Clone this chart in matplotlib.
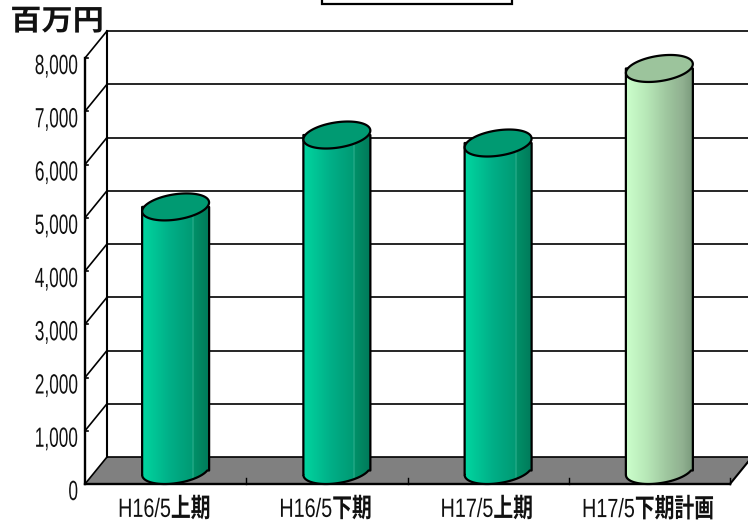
import numpy as np
import matplotlib
matplotlib.use("Agg")
import matplotlib.pyplot as plt
from matplotlib import font_manager as fm
from matplotlib.colors import LinearSegmentedColormap
from matplotlib.patches import Polygon
from matplotlib.patheffects import AbstractPathEffect
from matplotlib.transforms import Affine2D

categories = ["H16/5上期", "H16/5下期", "H17/5上期", "H17/5下期計画"]
values = [4950, 6300, 6150, 7550]
is_plan = [False, False, False, True]
ticks = [0, 1000, 2000, 3000, 4000, 5000, 6000, 7000, 8000]

W, H = 748, 524
LEFT, BASE, CAT_W, PX_PER = 85, 484, 161.25, 426 / 8000
DX, DY = 22 / CAT_W, 27 / PX_PER      # depth vector, data units
HALF_W = 31.6 / CAT_W                 # cylinder half-width (front axis)
HALF_OUT = 33.5 / CAT_W               # silhouette half-width

plt.rcParams["font.family"] = ["Liberation Sans", "Noto Sans CJK JP", "DejaVu Sans"]

# Regular Latin glyphs alongside bold CJK glyphs in one text
reg = fm.findfont(fm.FontProperties(family="Liberation Sans"))
fm.fontManager.ttflist.append(fm.FontEntry(fname=reg, name="LatinRegular", style="normal",
                                           variant="normal", weight=700, stretch="normal", size="scalable"))

fig = plt.figure(figsize=(W / 100, H / 100), dpi=100)
ax = fig.add_axes([0, 0, 1, 1])
ax.set_xlim(-LEFT / CAT_W - 0.5, (W - LEFT) / CAT_W - 0.5)
ax.set_ylim((BASE - H) / PX_PER, BASE / PX_PER)
ax.axis("off")

class Narrow(AbstractPathEffect):
    """Scale text horizontally about an anchor pixel."""
    def __init__(self, sx, anchor):
        super().__init__()
        self.sx, self.anchor = sx, anchor
    def draw_path(self, renderer, gc, tpath, affine, rgbFace=None):
        tr = affine + Affine2D().translate(-self.anchor, 0).scale(self.sx, 1).translate(self.anchor, 0)
        renderer.draw_path(gc, tpath, tr, rgbFace)

x0, x1 = -0.5, len(categories) - 0.5
ymax = ticks[-1]
ax.add_patch(Polygon([(x0, 0), (x1, 0), (x1 + DX, DY), (x0 + DX, DY)], fc="#808080", ec="none", zorder=1))
for t in ticks:
    ax.plot([x0 + DX, x1 + DX], [t + DY, t + DY], color="k", lw=1.2, zorder=2)
    ax.plot([x0, x0 + DX], [t, t + DY], color="k", lw=1.2, zorder=2)
    ax.plot([x0, x0 + 3 / CAT_W], [t, t], color="k", lw=1.2, zorder=2)
    ax.annotate(f"{t:,}", (x0, t), xytext=(-5, -6.5), textcoords="offset points", ha="right", va="center",
                fontsize=20, color="#111111",
                path_effects=[Narrow(0.62, 78)], zorder=5)
ax.plot([x0 + DX, x0 + DX], [DY, ymax + DY], color="k", lw=1.5, zorder=2)
ax.plot([x0, x0], [0, ymax], color="k", lw=1.7, zorder=2)
ax.plot([x0, x1], [0, 0], color="k", lw=1.7, zorder=2)
ax.plot([x1, x1 + DX], [0, DY], color="k", lw=1.5, zorder=2)
for b in np.arange(x0 + 1, x1 + 0.5):
    ax.plot([b, b], [0, 6 / PX_PER], color="k", lw=1, zorder=2)

green = LinearSegmentedColormap.from_list("g", [(0, "#00d6a0"), (0.4, "#00b088"), (0.75, "#009a74"),
                                                (0.765, "#30b090"), (0.78, "#009068"), (1, "#007a5a")])
pale = LinearSegmentedColormap.from_list("p", [(0, "#ccffcc"), (0.3, "#b8e8b8"), (0.6, "#a0c8a0"),
                                               (0.85, "#90b090"), (1, "#7a9a7c")])
grad = np.linspace(0, 1, 128).reshape(1, -1)
t = np.linspace(0, 2 * np.pi, 121)
for i, (v, plan) in enumerate(zip(values, is_plan)):
    cx, by = i + DX / 2 - 1 / CAT_W, DY / 2
    ty = v + by
    bottom = np.linspace(np.pi, 2 * np.pi, 40)
    ex = HALF_W * np.cos(bottom) + DX / 2 * np.sin(bottom)
    ey = DY / 2 * np.sin(bottom)
    k = np.argmin(ex), np.argmax(ex)
    lo, hi = min(k), max(k)
    body_x = np.r_[cx - HALF_OUT, cx + ex[lo:hi + 1], cx + HALF_OUT, cx + HALF_OUT, cx - HALF_OUT]
    body_y = np.r_[by + ey[lo], by + ey[lo:hi + 1], by + ey[hi], ty, ty]
    body = Polygon(np.c_[body_x, body_y], fc="none", ec="k", lw=1.6, zorder=3, joinstyle="round")
    ax.add_patch(body)
    im = ax.imshow(grad, cmap=pale if plan else green, aspect="auto", zorder=2.9,
                   extent=(cx - HALF_OUT, cx + HALF_OUT, by - DY, ty + DY))
    im.set_clip_path(body)
    cap_x = cx + HALF_W * np.cos(t) + DX / 2 * np.sin(t)
    cap_y = ty + DY / 2 * np.sin(t)
    ax.add_patch(Polygon(np.c_[cap_x, cap_y], fc="#9cc49c" if plan else "#009a72", ec="k", lw=1.6, zorder=4))

ax.set_xlim(-LEFT / CAT_W - 0.5, (W - LEFT) / CAT_W - 0.5)
ax.set_ylim((BASE - H) / PX_PER, BASE / PX_PER)

for i, c in enumerate(categories):
    ax.annotate(c, (i, 0), xytext=(-1, -18.5), textcoords="offset points", ha="center", va="center",
                fontsize=19, fontweight="bold", family=["LatinRegular", "Noto Sans CJK JP", "DejaVu Sans"],
                color="#111111",
                path_effects=[Narrow(0.75, LEFT + CAT_W * (i + 0.5) - 1.4)], zorder=5)

fig.text(57 / W, 1 - 21 / H, "百万円", fontsize=21, fontweight="bold", family=["Noto Sans CJK JP", "DejaVu Sans"],
         ha="center", va="center", color="#111111", path_effects=[Narrow(1.07, 57)])
# clipped frame at the top edge
ax.add_patch(plt.Rectangle((322 / W, 1 - 4 / H), 190 / W, 8 / H, transform=ax.transAxes, fc="w", ec="k", lw=1.6, zorder=5))
fig.savefig("out.png", dpi=100)
